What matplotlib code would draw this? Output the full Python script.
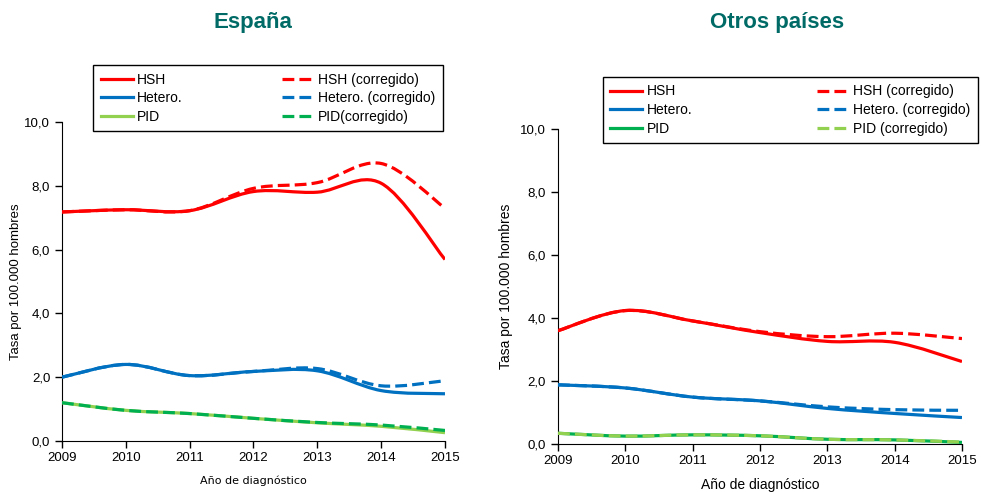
import matplotlib
matplotlib.use("Agg")
import matplotlib.pyplot as plt
from matplotlib.path import Path
from matplotlib.patches import PathPatch
from matplotlib.ticker import FuncFormatter
import numpy as np

years = [2009, 2010, 2011, 2012, 2013, 2014, 2015]

# España
es_hsh = [7.18, 7.25, 7.22, 7.82, 7.80, 8.08, 5.69]
es_hsh_c = [7.18, 7.25, 7.22, 7.92, 8.10, 8.70, 7.30]
es_het = [2.00, 2.40, 2.05, 2.18, 2.20, 1.58, 1.48]
es_het_c = [2.00, 2.40, 2.05, 2.18, 2.27, 1.73, 1.89]
es_pid = [1.20, 0.96, 0.86, 0.71, 0.57, 0.46, 0.26]
es_pid_c = [1.20, 0.96, 0.86, 0.71, 0.58, 0.50, 0.33]

# Otros países
ot_hsh = [3.60, 4.24, 3.91, 3.54, 3.26, 3.23, 2.62]
ot_hsh_c = [3.60, 4.24, 3.91, 3.57, 3.41, 3.52, 3.35]
ot_het = [1.88, 1.78, 1.49, 1.37, 1.13, 0.97, 0.84]
ot_het_c = [1.88, 1.78, 1.49, 1.37, 1.18, 1.09, 1.07]
ot_pid = [0.34, 0.25, 0.29, 0.26, 0.15, 0.13, 0.05]
ot_pid_c = [0.34, 0.25, 0.29, 0.26, 0.15, 0.13, 0.06]

RED = "#FF0000"
BLUE = "#0070C0"
LGREEN = "#92D050"
DGREEN = "#00B050"
TEAL = "#006B66"
LW = 2.3


def smooth_path(xs, ys):
    """Bezier path through the data points (spreadsheet-style smoothed line)."""
    pts = np.column_stack([xs, ys]).astype(float)
    n = len(pts)
    verts = [pts[0]]
    codes = [Path.MOVETO]
    for i in range(n - 1):
        p0 = pts[i - 1] if i > 0 else pts[i]
        p1 = pts[i]
        p2 = pts[i + 1]
        p3 = pts[i + 2] if i + 2 < n else pts[i + 1]
        c1 = p1 + (p2 - p0) / 6.0
        c2 = p2 - (p3 - p1) / 6.0
        verts += [c1, c2, p2]
        codes += [Path.CURVE4] * 3
    return Path(verts, codes)


def draw(ax, ys, color, ls, z):
    patch = PathPatch(smooth_path(years, ys), fill=False, edgecolor=color,
                      linewidth=LW, linestyle=ls, zorder=z,
                      capstyle="butt", joinstyle="round")
    ax.add_patch(patch)
    h, = ax.plot([], [], color=color, lw=LW, ls=ls)
    return h


fig = plt.figure(figsize=(9.81, 4.92), dpi=100)
plt.rcParams['font.family'] = ['Liberation Sans', 'DejaVu Sans']

ax1 = fig.add_axes([0.0632, 0.1037, 0.3904, 0.6483])
ax2 = fig.add_axes([0.5688, 0.0976, 0.4118, 0.6396])

fmt = FuncFormatter(lambda v, p: f"{v:.1f}".replace(".", ","))

for ax in (ax1, ax2):
    ax.set_xlim(2009, 2015)
    ax.set_ylim(0, 10)
    ax.set_yticks([0, 2, 4, 6, 8, 10])
    ax.set_xticks(years)
    ax.yaxis.set_major_formatter(fmt)
    ax.spines['top'].set_visible(False)
    ax.spines['right'].set_visible(False)
    ax.tick_params(direction='out', length=5, width=1, labelsize=9.5, colors='black')
    ax.tick_params(axis='x', pad=3)

leg_kw = dict(ncol=2, loc='upper left', mode='expand', bbox_transform=fig.transFigure,
              fancybox=False, edgecolor='black', framealpha=1, fontsize=10,
              handlelength=2.3, handletextpad=0.3, borderaxespad=0, labelspacing=0.33,
              borderpad=0.55, columnspacing=1.0)

# España
h1 = draw(ax1, es_hsh, RED, "-", 3)
h2 = draw(ax1, es_hsh_c, RED, "--", 4)
h3 = draw(ax1, es_het, BLUE, "-", 3)
h4 = draw(ax1, es_het_c, BLUE, "--", 4)
h5 = draw(ax1, es_pid, LGREEN, "-", 3)
h6 = draw(ax1, es_pid_c, DGREEN, "--", 4)

ax1.legend([h1, h3, h5, h2, h4, h6],
           ["HSH", "Hetero.", "PID", "HSH (corregido)", "Hetero. (corregido)", "PID(corregido)"],
           bbox_to_anchor=(0.0948, 0.7358, 0.3568, 0.1321), **leg_kw)
ax1.legend_.get_frame().set_linewidth(1.0)
ax1.set_xlabel("Año de diagnóstico", fontsize=8, family=['Verdana', 'DejaVu Sans'], labelpad=8)
ax1.set_ylabel("Tasa por 100.000 hombres", fontsize=9.5, labelpad=2)
fig.text(0.258, 0.955, "España", ha='center', va='center', fontsize=16, fontweight='bold',
         color=TEAL, family=['Liberation Sans Narrow', 'Liberation Sans'])

# Otros países
g1 = draw(ax2, ot_hsh, RED, "-", 3)
g2 = draw(ax2, ot_hsh_c, RED, "--", 4)
g3 = draw(ax2, ot_het, BLUE, "-", 3)
g4 = draw(ax2, ot_het_c, BLUE, "--", 4)
g5 = draw(ax2, ot_pid, DGREEN, "-", 3)
g6 = draw(ax2, ot_pid_c, LGREEN, "--", 4)

ax2.legend([g1, g3, g5, g2, g4, g6],
           ["HSH", "Hetero.", "PID", "HSH (corregido)", "Hetero. (corregido)", "PID (corregido)"],
           bbox_to_anchor=(0.6144, 0.712, 0.3826, 0.132), **leg_kw)
ax2.legend_.get_frame().set_linewidth(1.0)
ax2.set_xlabel("Año de diagnóstico", fontsize=10, labelpad=8)
ax2.set_ylabel("Tasa por 100.000 hombres", fontsize=10, labelpad=5)
fig.text(0.792, 0.955, "Otros países", ha='center', va='center', fontsize=16, fontweight='bold',
         color=TEAL, family=['Liberation Sans Narrow', 'Liberation Sans'])

fig.savefig("out.png", dpi=100)
